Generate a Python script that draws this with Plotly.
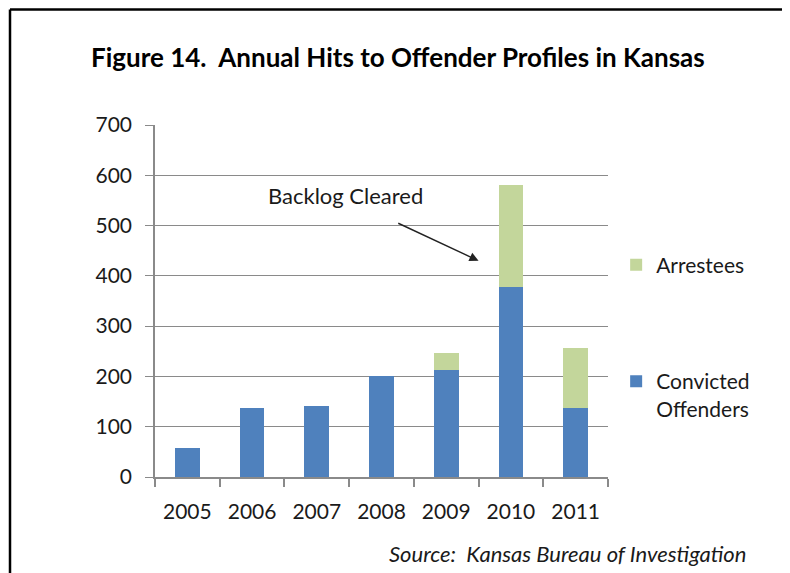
import plotly.graph_objects as go

years = ["2005", "2006", "2007", "2008", "2009", "2010", "2011"]
convicted = [58, 137, 141, 200, 213, 377, 137]
arrestees = [0, 0, 0, 0, 33, 204, 120]
y_ticks = [0, 100, 200, 300, 400, 500, 600, 700]

FONT = "Lato"
BLUE = "#4F81BD"
GREEN = "#C3D69B"
GRID = "#8A8A8A"
TXT = "#1a1a1a"

fig = go.Figure()
fig.add_trace(go.Bar(x=years, y=convicted, name="Convicted<br>Offenders",
                     marker=dict(color=BLUE, line=dict(width=0)),
                     legendgroup="c", legendrank=2))
fig.add_trace(go.Bar(x=years, y=arrestees, name="Arrestees",
                     marker=dict(color=GREEN, line=dict(width=0)),
                     legendgroup="a", legendrank=1))

# page has an 8px body margin; figure occupies (8,8)-(790,573)
fig.update_layout(
    width=782, height=565,
    margin=dict(l=147, r=182, t=117, b=96),
    barmode="stack", bargap=0.62,
    plot_bgcolor="white", paper_bgcolor="white",
    font=dict(family=FONT, size=21, color=TXT),
    showlegend=True,
    legend=dict(x=1.018, y=0.66, xanchor="left", yanchor="top",
                traceorder="grouped", tracegroupgap=86,
                font=dict(family=FONT, size=21, color=TXT),
                valign="top", itemwidth=30, bgcolor="rgba(0,0,0,0)"),
    annotations=[
        dict(text="<b>Figure 14.  Annual Hits to Offender Profiles in Kansas</b>",
             xref="paper", yref="paper", x=(398 - 155) / 453, y=(477 - 57) / 352,
             xanchor="center", yanchor="middle", showarrow=False,
             font=dict(family=FONT, size=26, color="#000000")),
        dict(text="<i>Source:  Kansas Bureau of Investigation</i>",
             xref="paper", yref="paper", x=(748 - 155) / 453, y=(477 - 553) / 352,
             xanchor="right", yanchor="middle", showarrow=False,
             font=dict(family=FONT, size=22, color=TXT)),
        dict(text="Backlog Cleared", x=2.45, y=559, xref="x", yref="y",
             showarrow=False, font=dict(family=FONT, size=22, color=TXT)),
        dict(text="", x=4.5, y=430, ax=3.236, ay=506, xref="x", yref="y",
             axref="x", ayref="y", showarrow=True, arrowhead=2,
             arrowsize=1.3, arrowwidth=1.4, arrowcolor="#222222"),
    ],
    shapes=[
        dict(type="line", xref="paper", yref="paper",
             x0=(10 - 155) / 453, x1=(800 - 155) / 453,
             y0=(477 - 9.5) / 352, y1=(477 - 9.5) / 352,
             line=dict(color="black", width=2.5)),
        dict(type="line", xref="paper", yref="paper",
             x0=(10 - 155) / 453, x1=(10 - 155) / 453,
             y0=(477 - 9.5) / 352, y1=(477 - 580) / 352,
             line=dict(color="black", width=2.5)),
    ],
)

fig.update_xaxes(type="category", showline=True, linecolor=GRID, linewidth=1.5,
                 ticks="outside", tickson="boundaries", ticklen=8,
                 tickcolor=GRID, tickwidth=1.5, showgrid=False,
                 ticklabelstandoff=15,
                 tickfont=dict(family=FONT, size=21, color=TXT))
fig.update_yaxes(range=[0, 700], tickvals=y_ticks, showline=True,
                 linecolor=GRID, linewidth=1.5, showgrid=True, gridcolor=GRID,
                 gridwidth=1.2, ticks="outside", ticklen=8, tickcolor=GRID,
                 tickwidth=1.2, zeroline=False, ticklabelstandoff=9,
                 tickfont=dict(family=FONT, size=21, color=TXT))

fig.write_html("out.html")
